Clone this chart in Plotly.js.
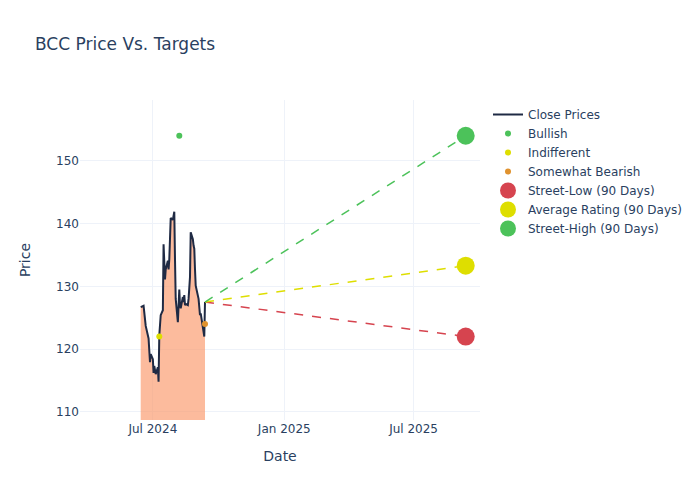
<!DOCTYPE html>
<html>
<head>
<meta charset="utf-8">
<script src="https://cdn.plot.ly/plotly-3.0.1.min.js"></script>
<style>
  body { margin: 0; }
  #PLOT { width: 700px; height: 500px; }
</style>
</head>
<body>
<div id="PLOT"></div>
<script>
// close prices
var closeDates = [
  '2024-06-14', '2024-06-18', '2024-06-21', '2024-06-24', '2024-06-25', '2024-06-27', '2024-06-28',
  '2024-07-01', '2024-07-02', '2024-07-03', '2024-07-05', '2024-07-08', '2024-07-09', '2024-07-10',
  '2024-07-12', '2024-07-15', '2024-07-16', '2024-07-18', '2024-07-19', '2024-07-22', '2024-07-23',
  '2024-07-24', '2024-07-26', '2024-07-29', '2024-07-30', '2024-07-31', '2024-08-01', '2024-08-02',
  '2024-08-05', '2024-08-07', '2024-08-08', '2024-08-09', '2024-08-12', '2024-08-13', '2024-08-14',
  '2024-08-15', '2024-08-16', '2024-08-19', '2024-08-20', '2024-08-22', '2024-08-23', '2024-08-26',
  '2024-08-27', '2024-08-28', '2024-08-29', '2024-08-30', '2024-09-03', '2024-09-04', '2024-09-05',
  '2024-09-06', '2024-09-09', '2024-09-10', '2024-09-11', '2024-09-12'
];
var closePrices = [
  126.7, 126.9, 123.7, 122.4, 121.7, 117.9, 119.2,
  118.4, 116.2, 117.3, 116.0, 117.1, 114.8, 122.2,
  125.4, 126.2, 136.7, 131.1, 132.7, 134.1, 132.7,
  134.3, 140.9, 140.6, 141.4, 141.9, 134.3, 128.0,
  124.3, 129.5, 127.0, 126.5, 128.3, 127.5, 128.6,
  127.0, 127.2, 127.0, 128.0, 131.5, 138.6, 137.5,
  136.5, 136.0, 132.7, 130.1, 128.0, 126.5, 125.4,
  125.7, 123.6, 123.3, 122.0, 127.5
];

// analyst ratings
var bullishDates = ['2024-08-07'];
var bullishTargets = [154];
var indifferentDates = ['2024-07-10'];
var indifferentTargets = [122];
var bearishDates = ['2024-09-12'];
var bearishTargets = [124];

// 90 day targets
var targetDate = '2025-09-12';
var streetLow = 122;
var averageRating = 133.3;
var streetHigh = 154;

var lastDate = closeDates[closeDates.length - 1];
var lastClose = closePrices[closePrices.length - 1];

var RED = '#d6444f';
var YELLOW = '#dede00';
var GREEN = '#4cc25a';
var ORANGE = '#e0922e';

function dashLine(target, color) {
  return {
    x: [lastDate, targetDate],
    y: [lastClose, target],
    mode: 'lines',
    line: { color: color, dash: 'dash', width: 1.5 },
    showlegend: false,
    hoverinfo: 'skip'
  };
}

var traces = [
  {
    // shaded area under the price, kept out of the legend
    x: closeDates, y: closePrices,
    type: 'scatter', mode: 'none', showlegend: false,
    fill: 'tozeroy', fillcolor: 'rgba(250,150,105,0.65)', hoverinfo: 'skip'
  },
  {
    x: closeDates, y: closePrices,
    type: 'scatter', mode: 'lines', name: 'Close Prices',
    line: { color: '#1f2a44', width: 2 }
  },
  {
    x: bullishDates, y: bullishTargets, mode: 'markers', name: 'Bullish',
    marker: { color: GREEN, size: 6 }
  },
  {
    x: indifferentDates, y: indifferentTargets, mode: 'markers', name: 'Indifferent',
    marker: { color: YELLOW, size: 6 }
  },
  {
    x: bearishDates, y: bearishTargets, mode: 'markers', name: 'Somewhat Bearish',
    marker: { color: ORANGE, size: 6 }
  },
  dashLine(streetLow, RED),
  dashLine(averageRating, YELLOW),
  dashLine(streetHigh, GREEN),
  {
    x: [targetDate], y: [streetLow], mode: 'markers', name: 'Street-Low (90 Days)',
    marker: { color: RED, size: 18 }
  },
  {
    x: [targetDate], y: [averageRating], mode: 'markers', name: 'Average Rating (90 Days)',
    marker: { color: YELLOW, size: 18 }
  },
  {
    x: [targetDate], y: [streetHigh], mode: 'markers', name: 'Street-High (90 Days)',
    marker: { color: GREEN, size: 18 }
  }
];

var layout = {
  width: 700, height: 500,
  font: { family: 'DejaVu Sans, Open Sans, sans-serif', color: '#2a3f5f', size: 12 },
  paper_bgcolor: '#fff', plot_bgcolor: '#fff',
  title: { text: 'BCC Price Vs. Targets', x: 0.05, xref: 'container', y: 0.912, yanchor: 'middle',
           font: { size: 17 } },
  margin: { l: 80, r: 220, t: 100, b: 80 },
  xaxis: {
    title: { text: 'Date', font: { size: 14 }, standoff: 16 },
    automargin: true,
    range: ['2024-03-21', '2025-10-02'],
    gridcolor: '#EEF2F9', zeroline: false,
    tickvals: ['2024-07-01', '2025-01-01', '2025-07-01'],
    ticktext: ['Jul 2024', 'Jan 2025', 'Jul 2025']
  },
  yaxis: {
    title: { text: 'Price', font: { size: 14 }, standoff: 22 },
    automargin: true,
    range: [108.7, 159.7],
    gridcolor: '#EEF2F9', zeroline: false,
    dtick: 10
  },
  legend: { x: 1.02, y: 1, font: { size: 12 } },
  showlegend: true
};

Plotly.newPlot('PLOT', traces, layout, { displayModeBar: false });
</script>
</body>
</html>
